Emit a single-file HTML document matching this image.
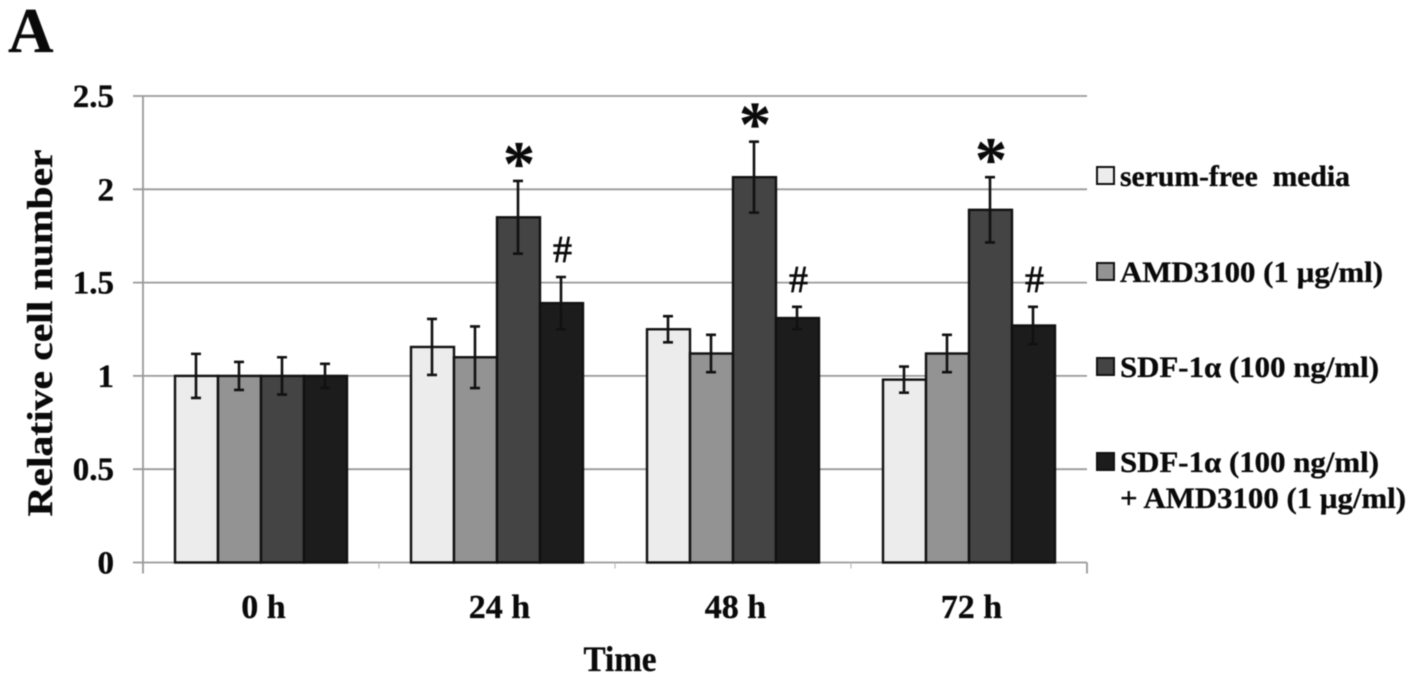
<!DOCTYPE html>
<html lang="en">
<head>
<meta charset="utf-8">
<title>Relative cell number over time</title>
<style>
html,body{margin:0;padding:0;background:#fff;width:1417px;height:681px;overflow:hidden}
svg{display:block;filter:blur(0.4px)}
text{font-family:"Liberation Serif",serif;font-weight:bold;fill:#0a0a0a;stroke:#0a0a0a;stroke-width:0.35}
</style>
</head>
<body>
<svg id="chart" width="1417" height="681" viewBox="0 0 1417 681" xmlns="http://www.w3.org/2000/svg">
  <text x="8" y="52" font-size="63">A</text>
  <text transform="translate(52,333) rotate(-90)" text-anchor="middle" font-size="36" textLength="367" lengthAdjust="spacingAndGlyphs">Relative cell number</text>
  <text x="620" y="671" text-anchor="middle" font-size="36" textLength="73" lengthAdjust="spacingAndGlyphs">Time</text>
  <g id="grid"></g>
  <g id="bars"></g>
  <g id="errors"></g>
  <g id="marks"></g>
  <g id="labels"></g>
  <g id="legend"></g>
</svg>
<script>
const categories = ['0 h', '24 h', '48 h', '72 h'];
const yTicks = [0, 0.5, 1, 1.5, 2, 2.5];
const yTickLabels = ['0', '0.5', '1', '1.5', '2', '2.5'];
const seriesNames = ['serum-free  media', 'AMD3100 (1 µg/ml)', 'SDF-1α (100 ng/ml)', 'SDF-1α (100 ng/ml)'];
const serumFree = [1, 1.155, 1.25, 0.98];
const amd3100 = [1, 1.10, 1.12, 1.12];
const sdf1a = [1, 1.85, 2.065, 1.89];
const sdfPlusAmd = [1, 1.39, 1.31, 1.27];
const serumFreeErr = [0.118, 0.15, 0.07, 0.07];
const amd3100Err = [0.075, 0.165, 0.10, 0.10];
const sdf1aErr = [0.10, 0.195, 0.19, 0.175];
const sdfPlusAmdErr = [0.065, 0.14, 0.06, 0.10];
const starGroups = [1, 2, 3];
const hashGroups = [1, 2, 3];

const NS = 'http://www.w3.org/2000/svg';
const seriesValues = [serumFree, amd3100, sdf1a, sdfPlusAmd];
const seriesErrors = [serumFreeErr, amd3100Err, sdf1aErr, sdfPlusAmdErr];
const seriesFills = ['#ececec', '#939393', '#444444', '#1c1c1c'];
const slugs = ['serum-free', 'amd3100', 'sdf1a', 'sdf1a-amd3100'];

const plotLeft = 143, plotRight = 1087, plotBottom = 562.5, plotTop = 96;
const barW = 43;
const yMax = 2.5;
function y(v) { return plotBottom - (v / yMax) * (plotBottom - plotTop); }
function groupCenter(i) { return plotLeft + (plotRight - plotLeft) * (i + 0.5) / categories.length; }
function barX(g, s) { return groupCenter(g) - 2 * barW + s * barW; }
function add(parent, tag, attrs, txt) {
  const el = document.createElementNS(NS, tag);
  for (const k in attrs) el.setAttribute(k, attrs[k]);
  if (txt !== undefined) el.textContent = txt;
  parent.appendChild(el);
  return el;
}
const gGrid = document.getElementById('grid');
const gBars = document.getElementById('bars');
const gErr = document.getElementById('errors');
const gMarks = document.getElementById('marks');
const gLabels = document.getElementById('labels');
const gLegend = document.getElementById('legend');

yTicks.forEach(function (t, i) {
  const line = add(gGrid, 'line', {x1: plotLeft - 10, x2: plotRight, y1: y(t), y2: y(t), stroke: '#999', 'stroke-width': 1.8});
  
  
  const lab = add(gLabels, 'text', {x: 114, y: y(t) + 11, 'text-anchor': 'end', 'font-size': 33}, yTickLabels[i]);
  
  
});
const yAxis = add(gGrid, 'line', {x1: plotLeft, x2: plotLeft, y1: plotTop, y2: plotBottom + 11, stroke: '#999', 'stroke-width': 1.8});


for (let i = 1; i <= categories.length; i++) {
  const xt = plotLeft + (plotRight - plotLeft) * i / categories.length;
  const last = i === categories.length;
  const tick = add(gGrid, 'line', {x1: xt, x2: xt, y1: plotBottom, y2: plotBottom + (last ? 11 : 6), stroke: last ? '#999' : '#bbb', 'stroke-width': last ? 1.8 : 1.2});
  
  
}
categories.forEach(function (c, g) {
  const lab = add(gLabels, 'text', {x: groupCenter(g) + 2.5, y: 618, 'text-anchor': 'middle', 'font-size': 34}, c);
  
  
  seriesValues.forEach(function (vals, s) {
    const v = vals[g];
    const bar = add(gBars, 'rect', {x: barX(g, s), y: y(v), width: barW, height: plotBottom - y(v), fill: seriesFills[s], stroke: '#111', 'stroke-width': 2.4});
    
    
    const e = seriesErrors[s][g];
    const cx = barX(g, s) + barW / 2 - 0.5;
    const eg = add(gErr, 'path', {
      d: 'M' + cx + ' ' + y(v + e) + 'V' + y(v - e) + 'M' + (cx - 5) + ' ' + y(v + e) + 'H' + (cx + 5) + 'M' + (cx - 5) + ' ' + y(v - e) + 'H' + (cx + 5),
      fill: 'none', stroke: '#111', 'stroke-width': 2.6});
    
    
  });
});
starGroups.forEach(function (g) {
  const cx = barX(g, 2) + barW / 2 + 0.5;
  const top = y(sdf1a[g] + sdf1aErr[g]);
  const st = add(gMarks, 'text', {x: cx, y: top + 4, 'text-anchor': 'middle', 'font-size': 64}, '*');
  
  
});
hashGroups.forEach(function (g) {
  const cx = barX(g, 3) + barW / 2 + 1;
  const top = y(sdfPlusAmd[g] + sdfPlusAmdErr[g]);
  const h = add(gMarks, 'text', {x: cx, y: top - 15, 'text-anchor': 'middle', 'font-size': 38, style: 'font-weight:normal;stroke-width:0.7'}, '#');
  
  
});

const legendBaselines = [186, 282, 377, 472];
const legendWidths = [230, 263, 259, 259];
seriesNames.forEach(function (name, s) {
  const sw = add(gLegend, 'rect', {x: 1097, y: legendBaselines[s] - 19, width: 17, height: 17, fill: seriesFills[s], stroke: '#111', 'stroke-width': 2});
  
  
  const t = add(gLegend, 'text', {x: 1120, y: legendBaselines[s], 'font-size': 30, textLength: legendWidths[s], lengthAdjust: 'spacingAndGlyphs', style: 'white-space:pre'}, name);
  
  
});
const extra = add(gLegend, 'text', {x: 1120, y: 508, 'font-size': 30, textLength: 286, lengthAdjust: 'spacingAndGlyphs'}, '+ AMD3100 (1 µg/ml)');


</script>
</body>
</html>
